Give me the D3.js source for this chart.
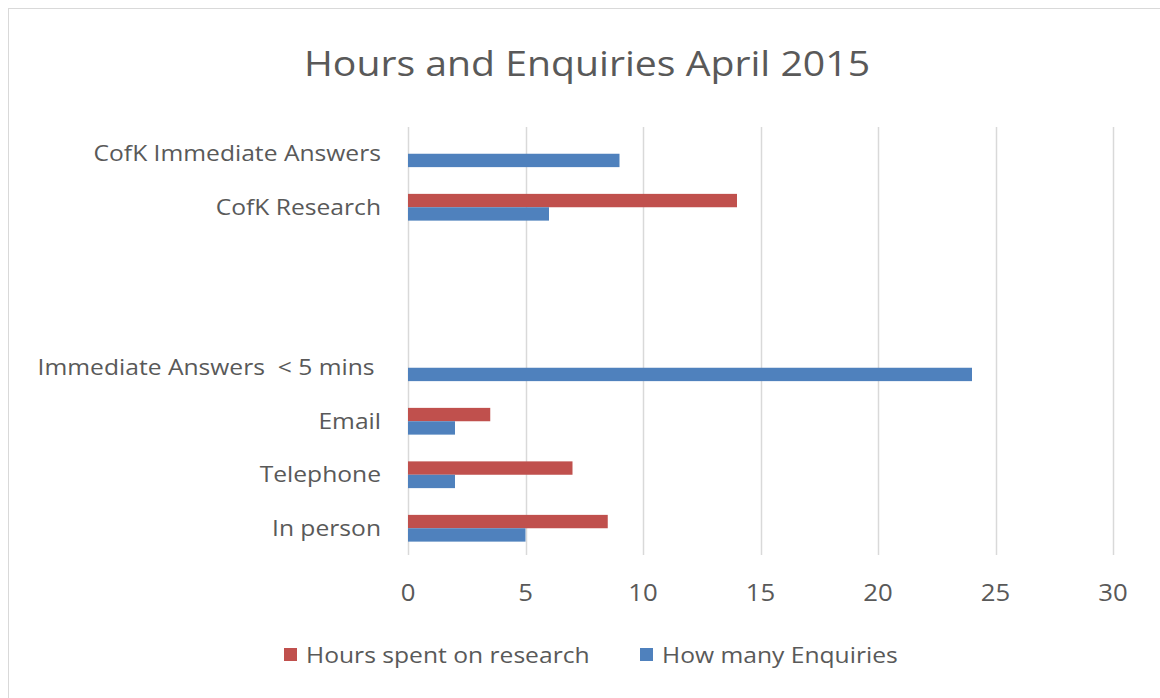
<!DOCTYPE html>
<html>
<head>
<meta charset="utf-8">
<script src="https://cdn.jsdelivr.net/npm/d3@7"></script>
<style>
  body { margin: 0; background: #fff; }
  text { font-family: "Open Sans", sans-serif; fill: #595959; }
</style>
</head>
<body>
<svg id="chart" width="1160" height="698"></svg>
<script>
"use strict"
// categories top to bottom, two blank slots between the groups
var categories = ["CofK Immediate Answers", "CofK Research", "gap1", "gap2",
                  "Immediate Answers  < 5 mins ", "Email", "Telephone", "In person"];
var hoursResearch = [0, 14, null, null, 0, 3.5, 7, 8.5];
var enquiries     = [9, 6, null, null, 24, 2, 2, 5];
var xTicks = [0, 5, 10, 15, 20, 25, 30];
var seriesNames = ["Hours spent on research", "How many Enquiries"];
var seriesColors = ["#c0504d", "#4f81bd"];

var svg = d3.select("svg#chart"),
    width = +svg.attr("width"),
    height = +svg.attr("height");

var margin = {top: 127, left: 408, right: 47, bottom: 143};
var stretch = 1.12; // text in the picture is a little wide

// chart border
svg.append("rect")
    .attr("x", 8.5).attr("y", 8.5)
    .attr("width", width).attr("height", height)
    .attr("fill", "none")
    .attr("stroke", "#d9d9d9");

var x = d3.scaleLinear()
    .domain([0, 30])
    .range([margin.left, width - margin.right]);

var y = d3.scaleBand()
    .domain(categories)
    .range([margin.top, height - margin.bottom])
    .paddingInner(0.5)
    .paddingOuter(0.25);

var yInner = d3.scaleBand()
    .domain([0, 1])
    .range([0, y.bandwidth()]);

function put(sel, px, py) {
  return sel.attr("transform", "translate(" + px + "," + py + ") scale(" + stretch + ",1)");
}

// title
put(svg.append("text"), 587, 76)
    .attr("text-anchor", "middle")
    .style("font-size", "35px")
    .text("Hours and Enquiries April 2015");

// gridlines
svg.append("g")
    .selectAll("line")
    .data(xTicks)
  .enter().append("line")
    .attr("x1", function(d) { return Math.round(x(d)) + 0.5; })
    .attr("x2", function(d) { return Math.round(x(d)) + 0.5; })
    .attr("y1", margin.top)
    .attr("y2", height - margin.bottom)
    .attr("stroke", "#d9d9d9")
    .attr("stroke-width", 1.5);

// x tick labels
svg.append("g")
    .selectAll("text")
    .data(xTicks)
  .enter().append("text")
    .attr("transform", function(d) { return "translate(" + x(d) + ",601) scale(" + stretch + ",1)"; })
    .attr("text-anchor", "middle")
    .style("font-size", "23px")
    .text(function(d) { return d; });

// category labels
svg.append("g")
    .selectAll("text")
    .data(categories.filter(function(c) { return c.indexOf("gap") !== 0; }))
  .enter().append("text")
    .attr("transform", function(d) { return "translate(381," + (y(d) + y.bandwidth() / 2) + ") scale(" + stretch + ",1)"; })
    .attr("dy", "0.35em")
    .attr("text-anchor", "end")
    .style("font-size", "22px")
    .style("white-space", "pre")
    .text(function(d) { return d; });

// bars
var rows = categories.map(function(c, i) {
  return {cat: c, vals: [hoursResearch[i], enquiries[i]]};
});

var grp = svg.append("g")
    .selectAll("g")
    .data(rows)
  .enter().append("g")
    .attr("transform", function(d) { return "translate(0," + y(d.cat) + ")"; });

grp.selectAll("rect")
    .data(function(d) { return d.vals.map(function(v, k) { return {k: k, v: v}; }); })
  .enter().filter(function(d) { return d.v; }).append("rect")
    .attr("x", x(0))
    .attr("y", function(d) { return yInner(d.k); })
    .attr("width", function(d) { return x(d.v) - x(0); })
    .attr("height", yInner.bandwidth())
    .attr("fill", function(d) { return seriesColors[d.k]; });

// legend
var legendX = [284, 640];
var leg = svg.append("g")
    .selectAll("g")
    .data(seriesNames)
  .enter().append("g")
    .attr("transform", function(d, i) { return "translate(" + legendX[i] + ",648)"; });

leg.append("rect")
    .attr("width", 13).attr("height", 13)
    .attr("fill", function(d, i) { return seriesColors[i]; });

leg.append("text")
    .attr("transform", "translate(22,7) scale(" + stretch + ",1)")
    .attr("dy", "0.35em")
    .style("font-size", "22px")
    .text(function(d) { return d; });
</script>
</body>
</html>
